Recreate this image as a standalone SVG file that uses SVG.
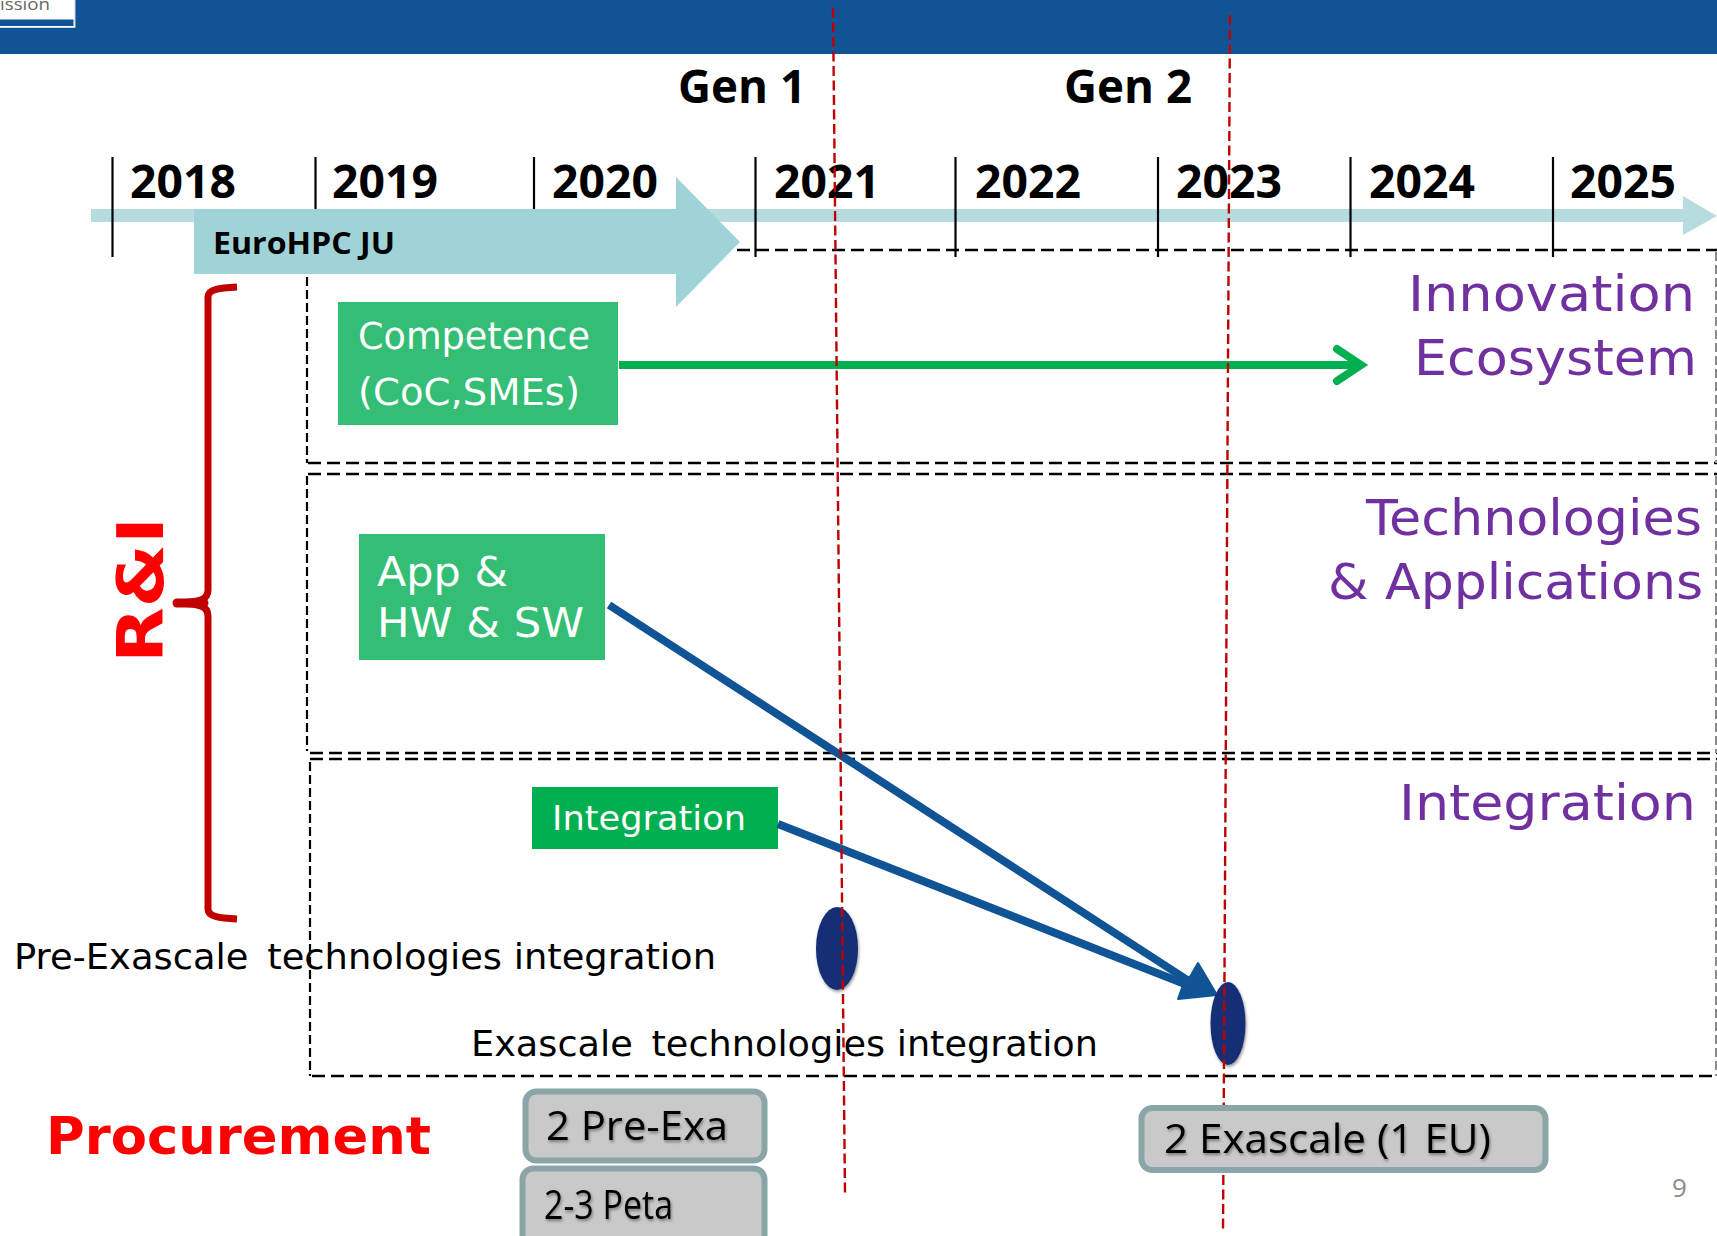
<svg xmlns="http://www.w3.org/2000/svg" width="1717" height="1236" viewBox="0 0 1717 1236">
<style>
.yr{font-family:"Open Sans",sans-serif;font-weight:700;font-size:46px;fill:#000}
.tick{stroke:#000;stroke-width:2.2}
.dh{fill:none;stroke:#000;stroke-width:2.6;stroke-dasharray:13 6}
.dv{fill:none;stroke:#000;stroke-width:2.2;stroke-dasharray:9 4}
.de{fill:none;stroke:#8a8a8a;stroke-width:2;stroke-dasharray:9 4}
.red{fill:none;stroke:#c00000;stroke-width:2.4;stroke-dasharray:10 4.5}
.pur{font-family:"DejaVu Sans",sans-serif;font-size:50px;fill:#7030a0;text-anchor:end}
.wh{font-family:"DejaVu Sans",sans-serif;fill:#fff}
.bk{font-family:"DejaVu Sans",sans-serif;font-size:36px;fill:#000}
.gr{font-family:"Open Sans",sans-serif;font-size:41px;fill:#000;filter:url(#sh)}
.box{fill:#c9c9c9;stroke:#89a5a8;stroke-width:6}
.blue{stroke:#115496;stroke-width:8}
.green{stroke:#00b050;stroke-width:8;fill:none}
</style>
<defs><filter id="sh" x="-20%" y="-20%" width="140%" height="140%"><feDropShadow dx="1" dy="2" stdDeviation="1.5" flood-color="#000" flood-opacity="0.4"/></filter></defs>
<rect width="1717" height="54" fill="#115496"/>
<g id="logo"><rect x="-2" y="-2" width="77" height="29.5" fill="#fff" stroke="#cfd6e0"/><rect x="0" y="19.5" width="73.5" height="6.5" fill="#115496"/><text x="0" y="10" font-family="Open Sans,sans-serif" font-size="17" fill="#666" textLength="50" lengthAdjust="spacingAndGlyphs">ission</text></g>
<g id="timeline">
<polygon points="91,209 1683,209 1683,196 1717,216 1683,235 1683,222 91,222" fill="#b7dce0"/>
<polygon points="194,209 676,209 676,177 740,242 676,307 676,274 194,274" fill="#9fd3d7"/>
<text x="213" y="254" font-family="Open Sans,sans-serif" font-weight="700" font-size="31" textLength="182" lengthAdjust="spacingAndGlyphs">EuroHPC JU</text>
<line class="tick" x1="112.500" y1="157" x2="112.500" y2="257"/>
<line class="tick" x1="315.500" y1="157" x2="315.500" y2="209"/>
<line class="tick" x1="534" y1="157" x2="534" y2="209"/>
<line class="tick" x1="755.500" y1="157" x2="755.500" y2="257"/>
<line class="tick" x1="955.500" y1="157" x2="955.500" y2="257"/>
<line class="tick" x1="1158" y1="157" x2="1158" y2="257"/>
<line class="tick" x1="1350.500" y1="157" x2="1350.500" y2="257"/>
<line class="tick" x1="1553" y1="157" x2="1553" y2="257"/>
<text class="yr" x="130" y="198" textLength="106" lengthAdjust="spacingAndGlyphs">2018</text>
<text class="yr" x="332" y="198" textLength="106" lengthAdjust="spacingAndGlyphs">2019</text>
<text class="yr" x="552" y="198" textLength="106" lengthAdjust="spacingAndGlyphs">2020</text>
<text class="yr" x="774" y="198" textLength="106" lengthAdjust="spacingAndGlyphs">2021</text>
<text class="yr" x="975" y="198" textLength="106" lengthAdjust="spacingAndGlyphs">2022</text>
<text class="yr" x="1176" y="198" textLength="106" lengthAdjust="spacingAndGlyphs">2023</text>
<text class="yr" x="1369" y="198" textLength="106" lengthAdjust="spacingAndGlyphs">2024</text>
<text class="yr" x="1570" y="198" textLength="106" lengthAdjust="spacingAndGlyphs">2025</text>
<text class="yr" x="678" y="103" textLength="128" lengthAdjust="spacingAndGlyphs">Gen 1</text>
<text class="yr" x="1064" y="103" textLength="128" lengthAdjust="spacingAndGlyphs">Gen 2</text>
</g>
<g id="frames">
<path class="dh" d="M737,250H1717M308,463H1717M308,474H1717M310,753H1717M310,759H1717M312,1076H1717"/>
<path class="dv" d="M307,277V463M307,476V751M310,762V1076"/>
<path class="de" d="M1716,252V463M1716,476V753M1716,762V1076"/>
</g>
<g id="rni">
<path d="M237,287 C220,288 208,289 208,297 V590 C208,600 200,602 178,603 C200,604 208,606 208,616 V909 C208,917 220,918 237,919" fill="none" stroke="#c00000" stroke-width="7"/>
<line x1="177" y1="603" x2="204" y2="603" stroke="#c00000" stroke-width="9" stroke-linecap="round"/>
<text transform="translate(163,663) rotate(-90)" font-family="DejaVu Sans,sans-serif" font-weight="700" font-size="64" fill="#f00" textLength="146" lengthAdjust="spacingAndGlyphs">R&amp;I</text>
</g>
<g id="competence"><rect x="338" y="302" width="280" height="123" fill="#33bd75"/>
<text class="wh" x="358" y="349" font-size="37" textLength="232" lengthAdjust="spacingAndGlyphs">Competence</text><text class="wh" x="358" y="405" font-size="37" textLength="222" lengthAdjust="spacingAndGlyphs">(CoC,SMEs)</text></g>
<g id="apphwsw"><rect x="359" y="534" width="246" height="126" fill="#33bd75"/>
<text class="wh" x="377" y="586" font-size="41" textLength="131" lengthAdjust="spacingAndGlyphs">App &amp;</text><text class="wh" x="377" y="637" font-size="41" textLength="207" lengthAdjust="spacingAndGlyphs">HW &amp; SW</text></g>
<g id="integration"><rect x="532" y="787" width="246" height="62" fill="#00b050"/>
<text class="wh" x="552" y="830" font-size="34" textLength="194" lengthAdjust="spacingAndGlyphs">Integration</text></g>
<g id="labels">
<text class="pur" x="1695" y="311" textLength="287" lengthAdjust="spacingAndGlyphs">Innovation</text><text class="pur" x="1697" y="375" textLength="283" lengthAdjust="spacingAndGlyphs">Ecosystem</text>
<text class="pur" x="1702" y="535" textLength="336" lengthAdjust="spacingAndGlyphs">Technologies</text><text class="pur" x="1703" y="599" textLength="375" lengthAdjust="spacingAndGlyphs">&amp; Applications</text>
<text class="pur" x="1696" y="820" textLength="297" lengthAdjust="spacingAndGlyphs">Integration</text>
<text class="bk" x="14" y="969" textLength="702" lengthAdjust="spacingAndGlyphs">Pre-Exascale <tspan dx="7">technologies integration</tspan></text>
<text class="bk" x="471" y="1056" textLength="627" lengthAdjust="spacingAndGlyphs">Exascale <tspan dx="7">technologies integration</tspan></text>
<text x="46" y="1154" font-family="DejaVu Sans,sans-serif" font-weight="700" font-size="52" fill="#f00" textLength="385" lengthAdjust="spacingAndGlyphs">Procurement</text>
<text x="1672" y="1197" font-family="Open Sans,sans-serif" font-size="26" fill="#8c8c8c">9</text>
</g>
<g id="connectors">
<line x1="619" y1="365" x2="1358" y2="365" class="green"/>
<path d="M1337,349 L1361,365 L1337,381" class="green" stroke-width="9" stroke-linecap="round" stroke-linejoin="miter"/>
<line x1="609" y1="605" x2="1195" y2="985" class="blue"/>
<line x1="778" y1="824" x2="1195" y2="988" class="blue"/>
<polygon points="1198,963 1217,995 1178,999 1183,985 1191,975" fill="#115496" stroke="#115496" stroke-width="2" stroke-linejoin="round"/>
</g>
<g id="dots" filter="url(#sh)">
<ellipse cx="837" cy="948.500" rx="21" ry="41.500" fill="#142f75"/>
<ellipse cx="1228" cy="1023.500" rx="17.500" ry="41.500" fill="#142f75"/>
</g>
<g id="guides">
<path class="red" d="M833,8 L845,1194"/>
<path class="red" d="M1230,15 L1223,1232"/>
</g>
<g id="box1"><rect x="525.500" y="1091.500" width="239" height="69" rx="11" class="box"/><text class="gr" x="546" y="1140" textLength="182" lengthAdjust="spacingAndGlyphs">2 Pre-Exa</text></g>
<g id="box2"><rect x="522.500" y="1168.500" width="242" height="80" rx="11" class="box"/><text class="gr" x="544" y="1219" textLength="129" lengthAdjust="spacingAndGlyphs">2-3 Peta</text></g>
<g id="box3"><rect x="1141.500" y="1108" width="404" height="62" rx="11" class="box"/><text class="gr" x="1164" y="1153" textLength="327" lengthAdjust="spacingAndGlyphs">2 Exascale (1 EU)</text></g>
</svg>
